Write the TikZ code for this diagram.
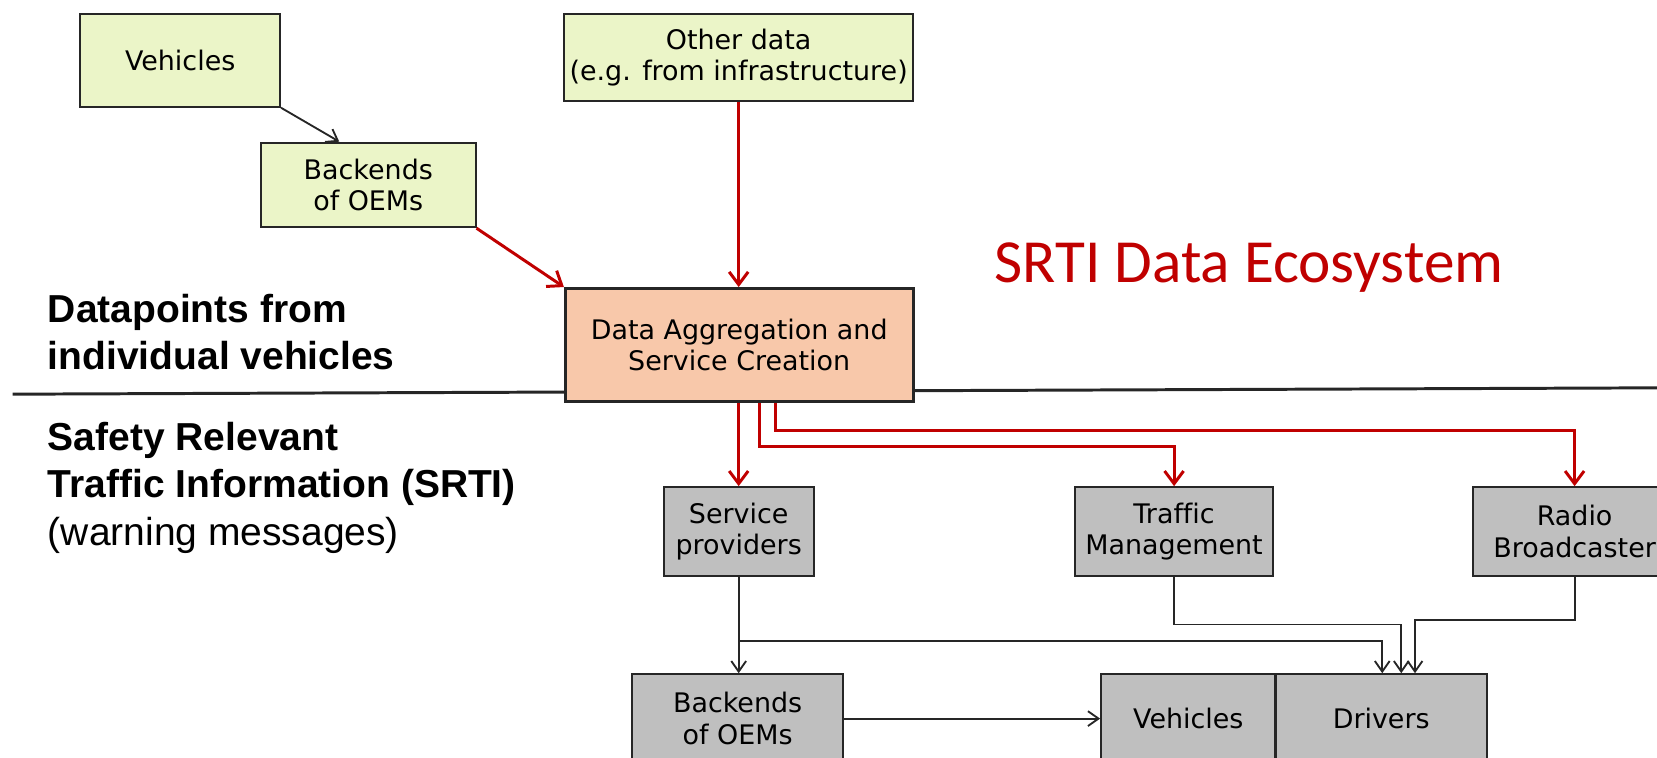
\documentclass[tikz,border=0pt]{standalone}
\usepackage{fontspec}
\setmainfont{DejaVu Sans}[Ligatures=NoCommon]
\newfontfamily\labelfont{Liberation Sans}
\newfontfamily\titlefont{Carlito}
\usetikzlibrary{calc,arrows.meta}
\definecolor{srtired}{HTML}{C00000}
\definecolor{inputgreen}{HTML}{EBF5C8}
\definecolor{aggorange}{HTML}{F8C8AA}
\definecolor{usergrey}{HTML}{BFBFBF}
\def\boxh{1.68cm}

\begin{document}
\begin{tikzpicture}[x=0.02cm,y=-0.02cm]
    \tikzset{%
      box/.style={%
        draw=black!85, line width=1.1pt, inner sep=0pt, align=center,
        font=\fontsize{14.5}{17}\selectfont},
      inbox/.style={box, fill=inputgreen},
      outbox/.style={box, fill=usergrey, minimum height=\boxh},
      redarrow/.style={%
        srtired, line width=1.6pt, -{Straight Barb[length=2.4mm,width=3.6mm]}},
      blackarrow/.style={%
        black!85, line width=1pt, -{Straight Barb[length=2mm,width=2.8mm]}},
      sidelabel/.style={%
        anchor=base west, align=left, inner sep=0pt,
        font=\labelfont\bfseries\fontsize{21}{25.5}\selectfont}}

    \useasboundingbox (0,0) rectangle (1568,717);
    \clip (0,0) rectangle (1568,717);

    % border between the two layers
    \draw[black!85, line width=1.6pt] (12,373) -- (1568,367);

    \node[inbox, minimum width=3.78cm, minimum height=1.76cm] (vehTop) at (170.5,57) {Vehicles};
    \node[inbox, minimum width=4.06cm, minimum height=1.6cm] (oemTop) at (348.5,175) {Backends\\of OEMs};
    \node[inbox, minimum width=6.6cm, minimum height=1.66cm] (other) at (699,54.5) {Other data\\(e.g. from infrastructure)};
    \node[box, fill=aggorange, line width=1.6pt, minimum width=6.58cm, minimum height=2.14cm] (agg) at (699.5,326.5) {Data Aggregation and\\Service Creation};

    \node[outbox, minimum width=2.84cm] (provider) at (699,503) {Service\\providers};
    \node[outbox, minimum width=3.76cm] (traffic) at (1111,503) {Traffic\\Management};
    \node[outbox, minimum width=3.84cm] (radio) at (1490,503) {Radio\\Broadcaster};
    \node[outbox, minimum width=4cm] (oemBot) at (698,680) {Backends\\of OEMs};
    \node[outbox, minimum width=3.3cm] (vehBot) at (1124.5,680) {Vehicles};
    \node[outbox, minimum width=4cm] (drivers) at (1307,680) {Drivers};

    \node[sidelabel] (lblPoints) at (45,350) {Datapoints from\\individual vehicles};
    \node[sidelabel] (lblSrti) at (45,516) {Safety Relevant\\Traffic Information (SRTI)\\{\mdseries (warning messages)}};
    \node[anchor=base west, inner sep=0pt, text=srtired, font=\titlefont\fontsize{33}{38}\selectfont] (title) at (941,267) {SRTI Data Ecosystem};

    % data collection
    \draw[blackarrow] (vehTop.south east) -- ($(oemTop.north west)+(75,0)$);
    \draw[redarrow] (oemTop.south east) -- (agg.north west);
    \draw[redarrow] (other.south) -- (agg.north -| other.south);

    % distribution of SRTI
    \draw[redarrow] (agg.south -| provider.north) -- (provider.north);
    \draw[redarrow] ($(agg.south)+(19,0)$) -- ++(0,41) -| (traffic.north);
    \draw[redarrow] ($(agg.south)+(34,0)$) -- ++(0,26) -| (radio.north);

    \draw[blackarrow] (provider.south) -- (provider.south |- oemBot.north);
    \draw[blackarrow] (provider.south) -- ++(0,61) -| ($(drivers.north)+(1,0)$);
    \draw[blackarrow] (traffic.south) -- ++(0,45) -| ($(drivers.north)+(19,0)$);
    \draw[blackarrow] (radio.south) -- ++(0,41) -| ($(drivers.north)+(32,0)$);
    \draw[blackarrow] (oemBot.east) -- (vehBot.west);
  \end{tikzpicture}
\end{document}
